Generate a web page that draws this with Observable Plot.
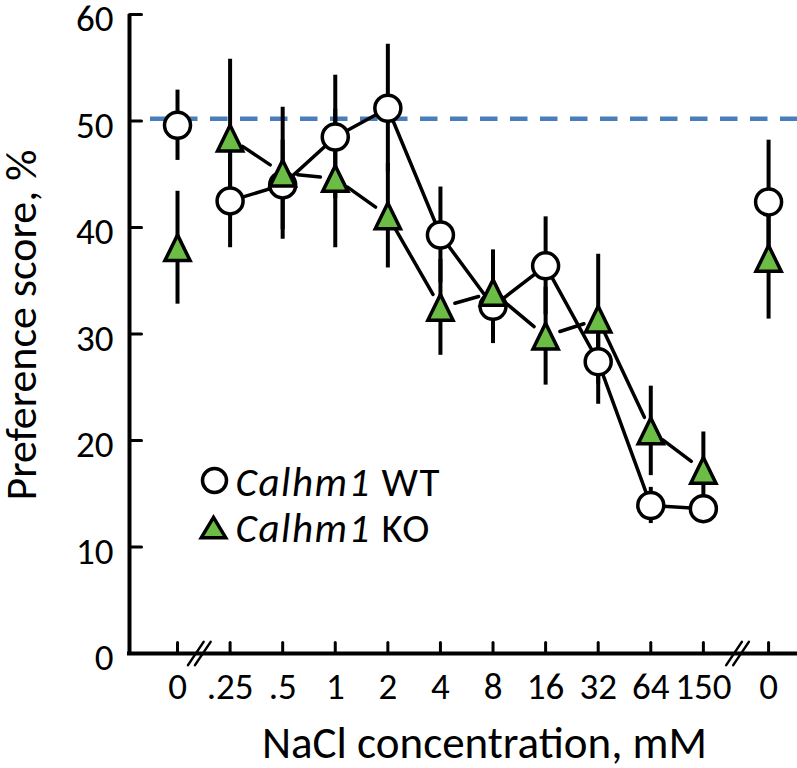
<!DOCTYPE html>
<html><head><meta charset="utf-8">
<script src="https://cdn.jsdelivr.net/npm/d3@7"></script>
<script src="https://cdn.jsdelivr.net/npm/@observablehq/plot@0.6"></script>
<style>body{margin:0;background:#fff} #chart{width:797px;height:768px}</style>
</head><body><div id="chart"></div>
<script>
// ---- data ----
const tickLabels = ["0", ".25", ".5", "1", "2", "4", "8", "16", "32", "64", "150", "0"];
const positions  = [0, 1, 2, 3, 4, 5, 6, 7, 8, 9, 10, 11.24];
const wtMean = [49.6, 42.5, 44.0, 48.5, 51.2, 39.3, 32.6, 36.4, 27.4, 13.9, 13.6, 42.4];
const wtSE   = [3.3, 4.4, 4.2, 5.8, 6.0, 4.5, 3.5, 4.6, 4.0, 1.7, 1.0, 5.8];
const koMean = [38.1, 48.4, 45.1, 44.6, 41.1, 32.5, 33.9, 29.8, 31.4, 20.9, 17.2, 37.1];
const koSE   = [5.3, 7.4, 6.2, 6.5, 4.9, 4.5, 4.0, 4.6, 6.1, 4.2, 3.6, 5.7];
const yTicks = [0, 10, 20, 30, 40, 50, 60];
const breakPositions = [0.405, 10.64];
const referenceLevel = 50.2;
const geneName = "Calhm1";
const genotypes = ["WT", "KO"];
const xTitle = "NaCl concentration, mM";
const yTitle = "Preference score, %";

const rows = positions.map((x, i) => ({x, label: tickLabels[i], wt: wtMean[i], wtSE: wtSE[i], ko: koMean[i], koSE: koSE[i]}));
const connected = rows.slice(1, 11);
const koSegments = d3.pairs(connected).map(([a, b]) => ({x1: a.x, y1: a.ko, x2: b.x, y2: b.ko}));

const green = "#6cbd45";
const triangleSym = {draw(ctx, size) { const s = Math.sqrt(size); ctx.moveTo(0, -s/2); ctx.lineTo(s*0.49, s/2); ctx.lineTo(-s*0.49, s/2); ctx.closePath(); }};
const triangleLegend = {draw(ctx, size) { const s = Math.sqrt(size); ctx.moveTo(0, -s/2); ctx.lineTo(s*0.6, s/2); ctx.lineTo(-s*0.6, s/2); ctx.closePath(); }};
const stick = {draw(ctx, l) { ctx.moveTo(0, 0); ctx.lineTo(0, -l); }};
const xDomain = [-0.913, 11.79];

const chart = Plot.plot({
  width: 797, height: 768,
  marginLeft: 129, marginRight: 0, marginTop: 14, marginBottom: 115,
  x: {domain: xDomain, axis: null},
  y: {domain: [0, 60], axis: null},
  style: {fontFamily: "Carlito, Lato, sans-serif", background: "white", color: "black", overflow: "visible"},
  marks: [
    Plot.ruleY([referenceLevel], {stroke: "#4a7ebb", strokeWidth: 4.5, strokeDasharray: "17.5,12.5", insetLeft: 21}),
    Plot.ruleX([xDomain[0]], {y1: 0, y2: 60, strokeWidth: 4}),
    Plot.ruleY([0], {strokeWidth: 4, insetLeft: -2}),
    // inward ticks
    Plot.vector(yTicks, {x: () => xDomain[0], y: d => d, length: 12, rotate: 90, anchor: "start", shape: stick, stroke: "black", strokeWidth: 3}),
    Plot.vector(positions, {x: d => d, y: () => 0, length: 11, rotate: 0, anchor: "start", shape: stick, stroke: "black", strokeWidth: 3}),
    // tick labels
    Plot.text(yTicks, {x: () => xDomain[0], y: d => d, text: d => String(d), textAnchor: "end", lineAnchor: "middle", dx: -16, dy: 5, fontSize: 37}),
    Plot.text(rows, {x: "x", y: () => 0, text: "label", textAnchor: "middle", lineAnchor: "top", dy: 19, fontSize: 37}),
    // axis breaks
    Plot.vector(breakPositions, {x: d => d, y: () => 0, length: 28, rotate: 34, anchor: "middle", shape: stick, stroke: "black", strokeWidth: 2.5, dx: -3}),
    Plot.vector(breakPositions, {x: d => d, y: () => 0, length: 28, rotate: 34, anchor: "middle", shape: stick, stroke: "black", strokeWidth: 2.5, dx: 4}),
    // error bars
    Plot.ruleX(rows, {x: "x", y1: d => d.wt - d.wtSE, y2: d => d.wt + d.wtSE, strokeWidth: 4}),
    Plot.ruleX(rows, {x: "x", y1: d => d.ko - d.koSE, y2: d => d.ko + d.koSE, strokeWidth: 4}),
    // series
    Plot.line(connected, {x: "x", y: "wt", stroke: "black", strokeWidth: 3.5}),
    Plot.dot(rows, {x: "x", y: "wt", r: 13, fill: "white", stroke: "black", strokeWidth: 3.5}),
    Plot.arrow(koSegments, {x1: "x1", y1: "y1", x2: "x2", y2: "y2", stroke: "black", strokeWidth: 3.5, headLength: 0, insetStart: 15, insetEnd: 15}),
    Plot.dot(rows, {x: "x", y: "ko", r: 14.5, symbol: triangleSym, fill: green, stroke: "black", strokeWidth: 3.5}),
    // legend
    Plot.dot([genotypes[0]], {frameAnchor: "top-left", dx: 85, dy: 466, r: 12, fill: "white", stroke: "black", strokeWidth: 3.5}),
    Plot.dot([genotypes[1]], {frameAnchor: "top-left", dx: 84, dy: 513, r: 11.5, symbol: triangleLegend, fill: green, stroke: "black", strokeWidth: 3.5}),
    Plot.text([genotypes[0]], {text: d => `${geneName} ${d}`, frameAnchor: "top-left", dx: 106, dy: 468, textAnchor: "start", lineAnchor: "middle", fontSize: 41}),
    Plot.text([genotypes[1]], {text: d => `${geneName} ${d}`, frameAnchor: "top-left", dx: 106, dy: 514, textAnchor: "start", lineAnchor: "middle", fontSize: 41}),
    // titles
    Plot.text([xTitle], {text: d => d, frameAnchor: "bottom", dx: 21, dy: 90, textAnchor: "middle", lineAnchor: "middle", fontSize: 45}),
    Plot.text([yTitle], {text: d => d, frameAnchor: "left", dx: -108, dy: -9, rotate: -90, textAnchor: "middle", lineAnchor: "middle", fontSize: 44})
  ]
});
document.getElementById("chart").appendChild(chart);

// italic gene name in legend
const ns = "http://www.w3.org/2000/svg";
chart.querySelectorAll("text").forEach(t => {
  const s = t.textContent;
  if (!s.startsWith(geneName + " ")) return;
  const rest = s.slice(geneName.length);
  t.textContent = "";
  t.setAttribute("letter-spacing", "1.5");
  const a = document.createElementNS(ns, "tspan");
  a.setAttribute("font-style", "italic");
  a.textContent = geneName;
  const b = document.createElementNS(ns, "tspan");
  b.textContent = rest;
  t.appendChild(a); t.appendChild(b);
});
</script>
</body></html>
